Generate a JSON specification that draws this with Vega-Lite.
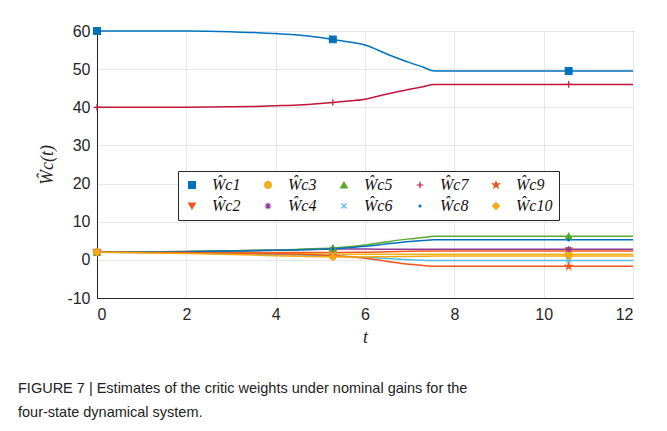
{
  "$schema": "https://vega.github.io/schema/vega-lite/v6.json",
  "width": 536,
  "height": 267,
  "autosize": {"type": "none"},
  "padding": {"left": 97, "top": 31, "right": 34, "bottom": 133},
  "background": "white",
  "title": {
    "text": ["FIGURE 7 | Estimates of the critic weights under nominal gains for the", "four-state dynamical system."],
    "orient": "bottom", "anchor": "start", "frame": "group", "dx": -79, "offset": 36,
    "font": "Liberation Sans", "fontSize": 14.5, "fontWeight": "normal", "color": "#222222", "lineHeight": 24
  },
  "config": {
    "view": {"stroke": "#262626", "strokeWidth": 1},
    "axis": {
      "domainColor": "#262626", "gridColor": "#e6e6e6", "ticks": false,
      "labelFont": "Liberation Sans", "labelFontSize": 16, "labelColor": "#262626",
      "titleFont": "Liberation Serif", "titleFontStyle": "italic", "titleFontWeight": "normal", "titleFontSize": 18, "titleColor": "#262626"
    },
    "legend": {
      "orient": "none", "legendX": 81, "legendY": 140, "columns": 5,
      "strokeColor": "#262626", "fillColor": "white", "padding": 6,
      "labelFont": "Liberation Serif", "labelFontStyle": "italic", "labelFontSize": 16, "labelColor": "#111111",
      "symbolSize": 45, "symbolStrokeWidth": 1.2, "labelOffset": 12, "columnPadding": 19, "rowPadding": 5
    }
  },
  "data": {"values": [
    {"t":0,"s":"c1","w":60},{"t":1,"s":"c1","w":60},{"t":2,"s":"c1","w":59.97},{"t":3,"s":"c1","w":59.79},{"t":3.5,"s":"c1","w":59.63},{"t":4,"s":"c1","w":59.32},{"t":4.5,"s":"c1","w":58.95},{"t":5,"s":"c1","w":58.27},{"t":5.28,"s":"c1","w":57.8},{"t":5.5,"s":"c1","w":57.38},{"t":6,"s":"c1","w":56.33},{"t":6.5,"s":"c1","w":53.91},{"t":7,"s":"c1","w":51.71},{"t":7.3,"s":"c1","w":50.55},{"t":7.55,"s":"c1","w":49.5},{"t":10.56,"s":"c1","w":49.5},{"t":12,"s":"c1","w":49.5},
    {"t":0,"s":"c2","w":2.0},{"t":1,"s":"c2","w":2.0},{"t":2,"s":"c2","w":1.98},{"t":3,"s":"c2","w":1.95},{"t":3.5,"s":"c2","w":1.93},{"t":4,"s":"c2","w":1.92},{"t":4.5,"s":"c2","w":1.9},{"t":5,"s":"c2","w":1.9},{"t":5.28,"s":"c2","w":1.9},{"t":5.5,"s":"c2","w":1.92},{"t":6,"s":"c2","w":2.0},{"t":6.5,"s":"c2","w":2.12},{"t":7,"s":"c2","w":2.25},{"t":7.3,"s":"c2","w":2.31},{"t":7.55,"s":"c2","w":2.35},{"t":10.56,"s":"c2","w":2.35},{"t":12,"s":"c2","w":2.35},
    {"t":0,"s":"c3","w":2.0},{"t":1,"s":"c3","w":1.92},{"t":2,"s":"c3","w":1.84},{"t":3,"s":"c3","w":1.74},{"t":3.5,"s":"c3","w":1.7},{"t":4,"s":"c3","w":1.65},{"t":4.5,"s":"c3","w":1.6},{"t":5,"s":"c3","w":1.55},{"t":5.28,"s":"c3","w":1.52},{"t":5.5,"s":"c3","w":1.5},{"t":6,"s":"c3","w":1.5},{"t":6.5,"s":"c3","w":1.5},{"t":7,"s":"c3","w":1.5},{"t":7.3,"s":"c3","w":1.5},{"t":7.55,"s":"c3","w":1.5},{"t":10.56,"s":"c3","w":1.5},{"t":12,"s":"c3","w":1.5},
    {"t":0,"s":"c4","w":2.0},{"t":1,"s":"c4","w":2.1},{"t":2,"s":"c4","w":2.2},{"t":3,"s":"c4","w":2.35},{"t":3.5,"s":"c4","w":2.45},{"t":4,"s":"c4","w":2.55},{"t":4.5,"s":"c4","w":2.65},{"t":5,"s":"c4","w":2.75},{"t":5.28,"s":"c4","w":2.8},{"t":5.5,"s":"c4","w":2.82},{"t":6,"s":"c4","w":2.82},{"t":6.5,"s":"c4","w":2.8},{"t":7,"s":"c4","w":2.78},{"t":7.3,"s":"c4","w":2.76},{"t":7.55,"s":"c4","w":2.75},{"t":10.56,"s":"c4","w":2.75},{"t":12,"s":"c4","w":2.75},
    {"t":0,"s":"c5","w":2.0},{"t":1,"s":"c5","w":2.1},{"t":2,"s":"c5","w":2.2},{"t":3,"s":"c5","w":2.4},{"t":3.5,"s":"c5","w":2.5},{"t":4,"s":"c5","w":2.6},{"t":4.5,"s":"c5","w":2.75},{"t":5,"s":"c5","w":2.95},{"t":5.28,"s":"c5","w":3.1},{"t":5.5,"s":"c5","w":3.3},{"t":6,"s":"c5","w":3.9},{"t":6.5,"s":"c5","w":4.75},{"t":7,"s":"c5","w":5.5},{"t":7.3,"s":"c5","w":5.85},{"t":7.55,"s":"c5","w":6.2},{"t":10.56,"s":"c5","w":6.2},{"t":12,"s":"c5","w":6.2},
    {"t":0,"s":"c6","w":2.0},{"t":1,"s":"c6","w":1.9},{"t":2,"s":"c6","w":1.8},{"t":3,"s":"c6","w":1.6},{"t":3.5,"s":"c6","w":1.5},{"t":4,"s":"c6","w":1.4},{"t":4.5,"s":"c6","w":1.3},{"t":5,"s":"c6","w":1.15},{"t":5.28,"s":"c6","w":1.05},{"t":5.5,"s":"c6","w":0.95},{"t":6,"s":"c6","w":0.7},{"t":6.5,"s":"c6","w":0.35},{"t":7,"s":"c6","w":0.05},{"t":7.3,"s":"c6","w":-0.1},{"t":7.55,"s":"c6","w":-0.2},{"t":10.56,"s":"c6","w":-0.2},{"t":12,"s":"c6","w":-0.2},
    {"t":0,"s":"c7","w":40},{"t":1,"s":"c7","w":40},{"t":2,"s":"c7","w":40.02},{"t":3,"s":"c7","w":40.12},{"t":3.5,"s":"c7","w":40.21},{"t":4,"s":"c7","w":40.39},{"t":4.5,"s":"c7","w":40.6},{"t":5,"s":"c7","w":40.99},{"t":5.28,"s":"c7","w":41.26},{"t":5.5,"s":"c7","w":41.5},{"t":6,"s":"c7","w":42.1},{"t":6.5,"s":"c7","w":43.48},{"t":7,"s":"c7","w":44.74},{"t":7.3,"s":"c7","w":45.4},{"t":7.55,"s":"c7","w":46},{"t":10.56,"s":"c7","w":46},{"t":12,"s":"c7","w":46},
    {"t":0,"s":"c8","w":2.0},{"t":1,"s":"c8","w":2.05},{"t":2,"s":"c8","w":2.15},{"t":3,"s":"c8","w":2.3},{"t":3.5,"s":"c8","w":2.4},{"t":4,"s":"c8","w":2.5},{"t":4.5,"s":"c8","w":2.6},{"t":5,"s":"c8","w":2.75},{"t":5.28,"s":"c8","w":2.9},{"t":5.5,"s":"c8","w":3.05},{"t":6,"s":"c8","w":3.55},{"t":6.5,"s":"c8","w":4.2},{"t":7,"s":"c8","w":4.8},{"t":7.3,"s":"c8","w":5.05},{"t":7.55,"s":"c8","w":5.25},{"t":10.56,"s":"c8","w":5.25},{"t":12,"s":"c8","w":5.25},
    {"t":0,"s":"c9","w":2.0},{"t":1,"s":"c9","w":1.95},{"t":2,"s":"c9","w":1.9},{"t":3,"s":"c9","w":1.8},{"t":3.5,"s":"c9","w":1.7},{"t":4,"s":"c9","w":1.6},{"t":4.5,"s":"c9","w":1.45},{"t":5,"s":"c9","w":1.25},{"t":5.28,"s":"c9","w":1.1},{"t":5.5,"s":"c9","w":0.95},{"t":6,"s":"c9","w":0.45},{"t":6.5,"s":"c9","w":-0.4},{"t":7,"s":"c9","w":-1.15},{"t":7.3,"s":"c9","w":-1.45},{"t":7.55,"s":"c9","w":-1.7},{"t":10.56,"s":"c9","w":-1.7},{"t":12,"s":"c9","w":-1.7},
    {"t":0,"s":"c10","w":2.0},{"t":1,"s":"c10","w":1.85},{"t":2,"s":"c10","w":1.65},{"t":3,"s":"c10","w":1.4},{"t":3.5,"s":"c10","w":1.25},{"t":4,"s":"c10","w":1.1},{"t":4.5,"s":"c10","w":0.95},{"t":5,"s":"c10","w":0.82},{"t":5.28,"s":"c10","w":0.75},{"t":5.5,"s":"c10","w":0.73},{"t":6,"s":"c10","w":0.75},{"t":6.5,"s":"c10","w":0.82},{"t":7,"s":"c10","w":0.9},{"t":7.3,"s":"c10","w":0.95},{"t":7.55,"s":"c10","w":1.0},{"t":10.56,"s":"c10","w":1.0},{"t":12,"s":"c10","w":1.0}
  ]},
  "encoding": {
    "x": {"field": "t", "type": "quantitative",
      "scale": {"domain": [0, 12], "nice": false, "zero": false},
      "axis": {"title": "t", "values": [0, 2, 4, 6, 8, 10, 12], "labelPadding": 8, "titlePadding": 6, "grid": true, "labelExpr": "'' + datum.value"}},
    "y": {"field": "w", "type": "quantitative",
      "scale": {"domain": [-10, 60], "nice": false, "zero": false},
      "axis": {"title": "Ŵc(t)", "values": [-10, 0, 10, 20, 30, 40, 50, 60], "labelPadding": 7, "titlePadding": 10, "grid": true, "labelExpr": "'' + datum.value"}}
  },
  "layer": [
    {
      "mark": {"type": "line", "strokeWidth": 1.5, "interpolate": "monotone"},
      "encoding": {
        "color": {"field": "s", "type": "nominal",
          "scale": {"domain": ["c1","c2","c3","c4","c5","c6","c7","c8","c9","c10"],
                    "range": ["#0072BD","#F0561D","#F2B11E","#8B3A96","#5AA82D","#4DBEEE","#C4143A","#0072BD","#F0561D","#F5A90F"]},
          "legend": {"title": null, "columns": 5, "labelExpr": "'Ŵ' + datum.label"}}
      }
    },
    {
      "transform": [{"filter": "datum.t == 0 || datum.t == 5.28 || datum.t == 10.56"}],
      "mark": {"type": "point", "filled": true, "size": 45, "strokeWidth": 1.2, "opacity": 1},
      "encoding": {
        "color": {"field": "s", "type": "nominal",
          "legend": {"title": null, "columns": 5, "labelExpr": "'Ŵ' + datum.label"}},
        "stroke": {"field": "s", "type": "nominal",
          "scale": {"domain": ["c1","c2","c3","c4","c5","c6","c7","c8","c9","c10"],
                    "range": ["#0072BD","#F0561D","#F2B11E","#8B3A96","#5AA82D","#4DBEEE","#C4143A","#0072BD","#F0561D","#F5A90F"]},
          "legend": {"title": null, "columns": 5, "labelExpr": "'Ŵ' + datum.label"}},
        "shape": {"field": "s", "type": "nominal",
          "scale": {"domain": ["c1","c2","c3","c4","c5","c6","c7","c8","c9","c10"],
                    "range": ["square","triangle-down","circle","M-1,0L1,0M0,-1L0,1M-0.7,-0.7L0.7,0.7M-0.7,0.7L0.7,-0.7","triangle-up","M-0.75,-0.75L0.75,0.75M-0.75,0.75L0.75,-0.75","M-1,0L1,0M0,-1L0,1","M-0.3,0A0.3,0.3,0,1,1,0.3,0A0.3,0.3,0,1,1,-0.3,0Z","M0,-1L0.2245,-0.309L0.951,-0.309L0.363,0.118L0.588,0.809L0,0.382L-0.588,0.809L-0.363,0.118L-0.951,-0.309L-0.2245,-0.309Z","diamond"]},
          "legend": {"title": null, "columns": 5, "labelExpr": "'Ŵ' + datum.label"}}
      }
    }
  ]
}
